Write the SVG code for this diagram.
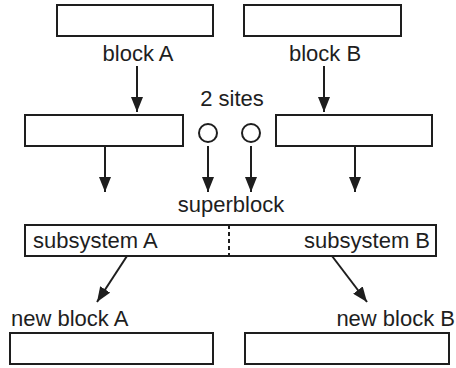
<svg xmlns="http://www.w3.org/2000/svg" width="456" height="368" viewBox="0 0 456 368">
<defs>
<marker id="ah" markerUnits="userSpaceOnUse" markerWidth="16" markerHeight="12" refX="15" refY="6" orient="auto">
<path d="M0,0 L15,6 L0,12 Z" fill="#1e1e1e"/>
</marker>
<style>
.box{fill:#fff;stroke:#1e1e1e;stroke-width:2}
.ln{stroke:#1e1e1e;stroke-width:2;fill:none}
.t{font-family:"Liberation Sans",Arial,sans-serif;font-size:22px;fill:#1e1e1e}
.c{text-anchor:middle}
.e{text-anchor:end}
</style>
</defs>
<rect width="456" height="368" fill="#fff"/>
<g id="blockA"><rect class="box" x="57" y="5" width="156" height="31"/><text class="t c" x="138" y="61">block A</text></g>
<g id="blockB"><rect class="box" x="244" y="5" width="157" height="31"/><text class="t c" x="325" y="61">block B</text></g>
<g id="midA"><rect class="box" x="25" y="115" width="158" height="31"/></g>
<g id="midB"><rect class="box" x="276" y="115" width="156" height="31"/></g>
<g id="sites"><text class="t c" x="232" y="106">2 sites</text>
<circle class="ln" cx="208" cy="133" r="9"/><circle class="ln" cx="251" cy="133" r="9"/></g>
<g id="superblock"><text class="t c" x="231" y="212">superblock</text>
<rect class="box" x="25" y="225" width="411" height="31"/>
<line class="ln" x1="229" y1="225" x2="229" y2="256" stroke-dasharray="4,3"/>
<text class="t" x="33" y="248">subsystem A</text>
<text class="t e" x="430" y="248">subsystem B</text></g>
<g id="newA"><text class="t" x="11" y="326">new block A</text><rect class="box" x="10" y="333" width="203" height="31"/></g>
<g id="newB"><text class="t e" x="455" y="326">new block B</text><rect class="box" x="245" y="333" width="204" height="31"/></g>
<g id="connectors">
<line class="ln" x1="137" y1="66" x2="137" y2="112" marker-end="url(#ah)"/>
<line class="ln" x1="324" y1="66" x2="324" y2="112" marker-end="url(#ah)"/>
<line class="ln" x1="105" y1="146" x2="105" y2="192" marker-end="url(#ah)"/>
<line class="ln" x1="208" y1="146" x2="208" y2="192" marker-end="url(#ah)"/>
<line class="ln" x1="251" y1="146" x2="251" y2="192" marker-end="url(#ah)"/>
<line class="ln" x1="355" y1="146" x2="355" y2="192" marker-end="url(#ah)"/>
<line class="ln" x1="127" y1="256" x2="97" y2="302" marker-end="url(#ah)"/>
<line class="ln" x1="332" y1="256" x2="367" y2="302" marker-end="url(#ah)"/>
</g>
</svg>
